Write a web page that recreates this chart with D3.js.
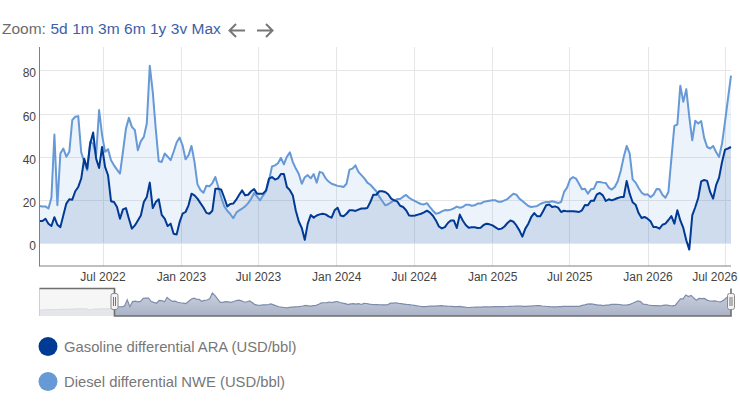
<!DOCTYPE html>
<html>
<head>
<meta charset="utf-8">
<script src="https://cdn.jsdelivr.net/npm/d3@7"></script>
<style>
body { margin: 0; background: #fff; }
svg { display: block; font-family: "Liberation Sans", Arial, sans-serif; }
</style>
</head>
<body>
<svg width="740" height="404"></svg>
<script>
// series names / colours for the legend
const seriesNames = ["Gasoline differential ARA (USD/bbl)", "Diesel differential NWE (USD/bbl)"];
const seriesColors = ["#003a94", "#6699d6"];

// tick labels
const xTickLabels = ["Jul 2022", "Jan 2023", "Jul 2023", "Jan 2024", "Jul 2024", "Jan 2025", "Jul 2025", "Jan 2026", "Jul 2026"];
const yTickValues = [0, 20, 40, 60, 80];
const zoomButtons = ["5d", "1m", "3m", "6m", "1y", "3v", "Max"];

// weekly observations, first one on this date
const firstWeek = "2022-02-03";
const navFirstWeek = "2021-07-22"; // navigator shows some history before the selected range

const gasolineValues = [
  10.2, 10.2, 11.3, 9, 7.9, 12, 8.5, 7.4, 12.9, 18.3,
  20.3, 20.1, 24, 26, 29.9, 39.1, 34.5, 46, 51.2, 39.1,
  34.8, 44.5, 35.3, 31.4, 19.4, 19, 16.7, 11.3, 15.6, 16.2,
  11.3, 6.7, 8.2, 10.5, 12.8, 19, 21.4, 28, 16.2, 19,
  20.3, 13.1, 11.3, 7.9, 9, 4.3, 4, 9.7, 13.6, 14.4,
  17.5, 22.9, 22.1, 20.6, 18.5, 16.5, 14, 13.6, 15, 25.2,
  25.2, 24.7, 21, 17, 18.1, 18.3, 20.1, 22.4, 24.4, 22.1,
  22.4, 24, 25, 22.9, 22.9, 22.9, 24.4, 29.9, 30.6, 29.4,
  30, 32, 32, 26, 24.5, 22, 15, 10, 7, 1.5,
  9, 13, 11.8, 12.8, 13.3, 13.6, 13.3, 12.4, 11.8, 15.2,
  16.4, 12.8, 12.4, 13.6, 15.2, 15.2, 14.9, 15.5, 16, 16,
  16.3, 19, 22.4, 22.4, 24, 24, 23.7, 22.6, 20.6,
  19.8, 19.3, 17.3, 16.7, 15.2, 12.8, 12.7, 12.8, 13.2, 13.6,
  14.2, 15, 14.1, 12.7, 10.5, 7.7, 6.8, 7.4, 9.3, 10.5,
  10.5, 7, 13.2, 10.5, 8.4, 7.1, 7.3, 7.3, 7, 7.1,
  8.4, 9, 8.7, 8.2, 7.3, 6.4, 6.7, 7.7, 9.3, 10.5,
  9.9, 8.2, 5.9, 3, 6.7, 9, 12.1, 13.9, 12.4, 12.4,
  14.9, 17.5, 17.9, 16.7, 17, 16.4,
  14.4, 15, 14.7, 14.7, 14.7, 14.6, 14.4, 15.2, 17.6, 17.5,
  19.6, 19.6, 22.6, 23.2, 22.1, 19.5, 20.3, 19.8, 20.3, 20.9,
  21.3, 21.3, 28.8, 22.9, 18.9, 17.8, 13.9, 11.6, 12.1, 11.3,
  10.1, 7.4, 7.4, 6.7, 8.5, 9, 10.7, 12.5, 9, 15.2,
  10.5, 7, 1.3, -3, 12.8, 16.6, 20.9, 28.6, 29.2, 28.8,
  23.7, 20.6, 26.8, 30.3, 37.6, 43.3, 43.8, 44.5
];

const dieselValues = [
  17.2, 17, 17, 16, 21, 50.3, 17.5, 41.5, 43.8, 40,
  42.3, 57, 58.5, 58.8, 42, 37.6, 33.7, 46.9, 46, 40.7,
  61.6, 50, 42.3, 43.5, 38.4, 36, 34, 32.2, 42.3, 53,
  58, 53.8, 52.3, 43, 47.2, 49.2, 55.4, 82.1, 70, 53,
  37.9, 37.6, 41.5, 40, 38.4, 42.3, 46.6, 48.9, 45.3, 38.8,
  40.7, 45, 37.6, 27.2, 24.6, 23.3, 26.6, 26.3, 27.8, 30.6,
  26, 21, 17, 15, 13.5, 11.5, 14, 15.2, 16, 17,
  18.5, 20.5, 23.2, 21.5, 19.8, 22, 24, 29, 35.5, 36,
  37, 39.5, 36.5, 40, 42, 37.5, 34.5, 32, 27.5, 30.5,
  31.5, 30, 32, 28, 33, 32.5, 30, 28.5, 27.5, 27,
  26.5, 26.3, 26, 27.5, 34, 34.5, 36, 33, 31.5, 30,
  28, 27, 25.5, 24, 21.5, 19.5, 17.5, 18, 19,
  19.8, 20.4, 20.4, 21.5, 22.3, 21, 20.1, 19.4, 18.7, 18.1,
  17.9, 18.5, 16.7, 15, 13.6, 13.9, 14.7, 15.3, 15.2, 15.5,
  16.1, 16.9, 16.4, 16.7, 17.8, 17.8, 17.3, 17.5, 18.3, 18.3,
  19.1, 19.4, 19.6, 19.8, 19.8, 19.1, 19.2, 19.8, 20.4, 21.7,
  22.9, 22.4, 20.6, 19.5, 18.3, 17.2, 16.7, 16.9, 17.2, 18.1,
  18.7, 19, 19, 19.4, 19, 18.6,
  19, 23.7, 25.7, 29.5, 30.6, 29.9, 27.5, 24.9, 25.2, 22.9,
  24.9, 25.2, 28.3, 28.3, 28, 27.8, 25.7, 24.8, 26, 28.6,
  33.4, 39.9, 45, 41.5, 29.5, 28, 25.5, 23.4, 22.4, 22.6,
  21.3, 22.4, 25, 24.9, 22.4, 21, 23.7, 39.1, 54.3, 54.9,
  72.9, 65.4, 71.3, 58.5, 47.6, 56.6, 55.4, 56.5, 48.7, 44.5,
  43.8, 45, 42.2, 39.9, 46.1, 56.2, 67, 77.5
];

// diesel history shown only in the navigator (Jul 2021 - Jan 2022)
const navEarlyDiesel = [
  1, 1.5, 2, 2.5, 3, 3.5, 4, 4, 4.5, 4.5,
  5, 5, 5.5, 6, 7, 7, 7.5, 7, 6, 0.5,
  5, 6, 6, 6.5, 6.5, 7, 7, 8
];

const width = 740, height = 404;
const plot = { left: 39.5, right: 731, top: 47, bottom: 266 };
const nav = { left: 39.5, right: 731, top: 288.5, bottom: 316 };

const svg = d3.select("svg");
const parseDay = d3.timeParse("%Y-%m-%d");
const parseTick = d3.timeParse("%b %Y");

const dates = gasolineValues.map((d, i) => d3.timeDay.offset(parseDay(firstWeek), 7 * i));
const navDates = navEarlyDiesel.map((d, i) => d3.timeDay.offset(parseDay(navFirstWeek), 7 * i)).concat(dates);
const navValues = navEarlyDiesel.concat(dieselValues);

const x = d3.scaleTime().domain([dates[0], dates[dates.length - 1]]).range([plot.left, plot.right]);
const y = d3.scaleLinear().domain([-10.6, 90.8]).range([plot.bottom, plot.top]);

// ---- zoom bar on top
svg.append("text").attr("x", 2).attr("y", 33.5)
  .attr("font-size", "15.5px").attr("fill", "#6b6b6b").text("Zoom:");
var bx = 50.5;
zoomButtons.forEach(function(b) {
  var t = svg.append("text").attr("x", bx).attr("y", 33.5)
    .attr("font-size", "15.5px").attr("fill", "#3d5ea6").text(b);
  bx += t.node().getComputedTextLength() + 4.4;
});
// arrows
const arrowG = svg.append("g").attr("stroke", "#777").attr("stroke-width", 2).attr("fill", "none");
arrowG.append("path").attr("d", "M245,30.5H229.5M236,24L229.5,30.5L236,37");
arrowG.append("path").attr("d", "M257,30.5H272.5M266,24L272.5,30.5L266,37");

// ---- grid
const xTicks = xTickLabels.map(parseTick);
svg.append("g").selectAll("line").data(yTickValues).enter().append("line")
  .attr("x1", plot.left).attr("x2", plot.right)
  .attr("y1", d => Math.round(y(d)) + 0.5).attr("y2", d => Math.round(y(d)) + 0.5)
  .attr("stroke", "#e6e6e6");
svg.append("g").selectAll("line").data(xTicks).enter().append("line")
  .attr("x1", d => Math.round(x(d)) + 0.5).attr("x2", d => Math.round(x(d)) + 0.5)
  .attr("y1", plot.top).attr("y2", plot.bottom)
  .attr("stroke", "#e6e6e6");

// ---- series
const series = [
  { values: gasolineValues, color: seriesColors[0], fill: "rgba(0,58,148,0.12)" },
  { values: dieselValues, color: seriesColors[1], fill: "rgba(102,153,214,0.12)" }
];
const area = d3.area().x((d, i) => x(dates[i])).y0(y(0)).y1(d => y(d));
const line = d3.line().x((d, i) => x(dates[i])).y(d => y(d));

// diesel area drawn first, gasoline on top
[series[1], series[0]].forEach(function(s) {
  svg.append("path").attr("d", area(s.values)).attr("fill", s.fill);
});
[series[1], series[0]].forEach(function(s) {
  svg.append("path").attr("d", line(s.values)).attr("fill", "none")
    .attr("stroke", s.color).attr("stroke-width", 2).attr("stroke-linejoin", "round");
});

// ---- axes
const xAxis = svg.append("g").attr("transform", "translate(0," + plot.bottom + ")")
  .call(d3.axisBottom(x).tickValues(xTicks).tickFormat(d3.timeFormat("%b %Y")).tickSize(0).tickPadding(6));
xAxis.select(".domain").remove();
xAxis.selectAll("text").attr("font-size", "12px").attr("fill", "#444").attr("font-family", null);
// keep the last label inside the picture
xAxis.selectAll(".tick").each(function(d) {
  var t = d3.select(this).select("text");
  var w = t.node().getComputedTextLength();
  var over = x(d) + w / 2 - (width - 3);
  if (over > 0) t.attr("x", -over);
});

const yAxis = svg.append("g").attr("transform", "translate(" + plot.left + ",0)")
  .call(d3.axisLeft(y).tickValues(yTickValues).tickSize(0).tickPadding(3.5));
yAxis.select(".domain").remove();
yAxis.selectAll("text").attr("font-size", "12px").attr("fill", "#444").attr("dy", "0.55em").attr("font-family", null);

svg.append("line").attr("x1", plot.left).attr("x2", plot.left).attr("y1", plot.top).attr("y2", plot.bottom + 0.5)
  .attr("stroke", "#808080");
svg.append("line").attr("x1", plot.left).attr("x2", plot.right).attr("y1", plot.bottom).attr("y2", plot.bottom)
  .attr("stroke", "#808080");

// ---- navigator
const nx = d3.scaleTime().domain([navDates[0], navDates[navDates.length - 1]]).range([nav.left, nav.right]);
const ny = d3.scaleLinear().domain([-27, 104]).range([nav.bottom, nav.top]);

const grad = svg.append("defs").append("linearGradient").attr("id", "navFill")
  .attr("x1", 0).attr("y1", 0).attr("x2", 0).attr("y2", 1);
grad.append("stop").attr("offset", "0%").attr("stop-color", "#c9d0de");
grad.append("stop").attr("offset", "100%").attr("stop-color", "#aab3c6");

const navArea = d3.area().x((d, i) => nx(navDates[i])).y0(nav.bottom).y1(d => ny(d));
const navLine = d3.line().x((d, i) => nx(navDates[i])).y(d => ny(d));
svg.append("path").attr("d", navArea(navValues)).attr("fill", "url(#navFill)");
svg.append("path").attr("d", navLine(navValues)).attr("fill", "none")
  .attr("stroke", "#7d8cab").attr("stroke-width", 1.2);

const hx1 = Math.round(nx(dates[0])) + 0.5;
const hx2 = nav.right;
svg.append("rect").attr("x", nav.left).attr("y", nav.top).attr("width", hx1 - nav.left)
  .attr("height", nav.bottom - nav.top).attr("fill", "rgba(244,244,244,0.78)");
svg.append("line").attr("x1", nav.left).attr("x2", nav.left).attr("y1", nav.top).attr("y2", nav.bottom)
  .attr("stroke", "#d0d0d0");
svg.append("path")
  .attr("d", "M" + nav.left + "," + nav.top + "H" + hx1 + "V" + nav.bottom + "H" + hx2 + "V" + nav.top)
  .attr("fill", "none").attr("stroke", "#6e6e6e").attr("stroke-width", 1.6);

[hx1, hx2].forEach(function(hx) {
  var g = svg.append("g").attr("transform", "translate(" + hx + ",301.5)");
  g.append("rect").attr("x", -3.5).attr("y", -8).attr("width", 7).attr("height", 16).attr("rx", 2)
    .attr("fill", "#f2f2f2").attr("stroke", "#8a8a8a");
  g.append("path").attr("d", "M-1,-4.5V4.5M1,-4.5V4.5").attr("stroke", "#555").attr("stroke-width", 0.8);
});

// ---- legend
const legend = svg.append("g").selectAll("g").data(seriesNames).enter().append("g")
  .attr("transform", (d, i) => "translate(48," + (346.5 + i * 35) + ")");
legend.append("circle").attr("r", 9.5).attr("fill", (d, i) => seriesColors[i]);
legend.append("text").attr("x", 16).attr("y", 5).attr("font-size", "14.8px")
  .attr("fill", "#777").text(d => d);
</script>
</body>
</html>
